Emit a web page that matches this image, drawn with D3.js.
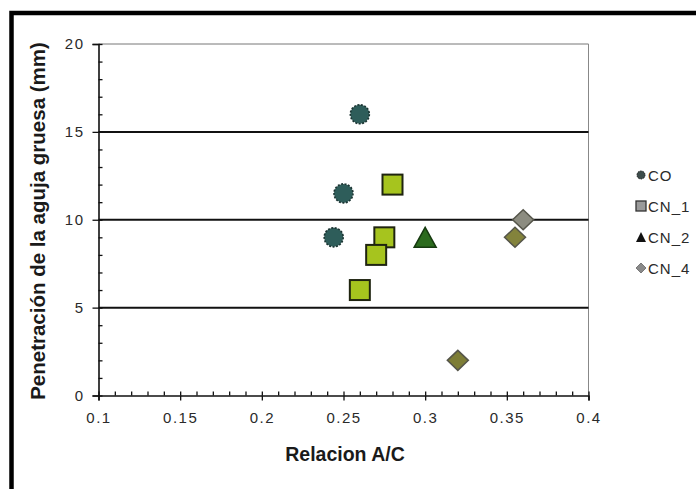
<!DOCTYPE html>
<html><head><meta charset="utf-8">
<script src="https://cdn.jsdelivr.net/npm/d3@7"></script>
<style>body{margin:0;background:#fff}</style>
</head><body><svg id="c" width="696" height="489"></svg>
<script>
// ---- data ----
const seriesNames = ["CO", "CN_1", "CN_2", "CN_4"];
const coX = [0.26, 0.25, 0.244];
const coY = [16, 11.5, 9];
const cn1X = [0.28, 0.275, 0.27, 0.26];
const cn1Y = [12, 9, 8, 6];
const cn2X = [0.30];
const cn2Y = [9];
const cn4X = [0.36, 0.355, 0.32];
const cn4Y = [10, 9, 2];
const xTicks = [0.1, 0.15, 0.2, 0.25, 0.3, 0.35, 0.4];
const yTicks = [0, 5, 10, 15, 20];
const xTitle = "Relacion A/C";
const yTitle = "Penetración de la aguja gruesa (mm)";

// ---- styles ----
const cn4Fill = ["#8c8c80", "#83833c", "#7d7d36"];
const font = "'Liberation Sans', Arial, sans-serif";

const svg = d3.select("#c");
svg.append("rect").attr("width", 696).attr("height", 489).attr("fill", "#fff");
// outer thick frame
svg.append("rect").attr("x", 11.5).attr("y", 13).attr("width", 720).attr("height", 520)
  .attr("fill", "none").attr("stroke", "#000").attr("stroke-width", 4.5);

const L = 98.5, R = 588.5, T = 44, B = 395.5;
const x = d3.scaleLinear().domain([0.1, 0.4]).range([L, R]);
const y = d3.scaleLinear().domain([0, 20]).range([B, T]);

// plot area top/right thin border
svg.append("line").attr("x1", L).attr("x2", R).attr("y1", y(20)).attr("y2", y(20))
  .attr("stroke", "#777").attr("stroke-width", 1);
svg.append("line").attr("x1", R).attr("x2", R).attr("y1", T).attr("y2", B)
  .attr("stroke", "#888").attr("stroke-width", 1);

// gridlines
svg.append("g").selectAll("line").data(yTicks.filter(d => d > 0 && d < 20)).join("line")
  .attr("x1", L).attr("x2", R).attr("y1", d => y(d)).attr("y2", d => y(d))
  .attr("stroke", "#111").attr("stroke-width", 2);

// y axis
const yAx = svg.append("g").attr("transform", `translate(${L},0)`)
  .call(d3.axisLeft(y).tickValues(yTicks).tickSize(6).tickPadding(8).tickFormat(d => String(d)));
const yMin = svg.append("g").attr("transform", `translate(${L},0)`)
  .call(d3.axisRight(y).tickValues(d3.range(0, 21, 1)).tickSize(4).tickFormat(""));
// x axis
const xAx = svg.append("g").attr("transform", `translate(0,${B})`)
  .call(d3.axisBottom(x).tickValues(xTicks).tickSize(5).tickPadding(12).tickFormat(d => String(d)));
const xMin = svg.append("g").attr("transform", `translate(0,${B})`)
  .call(d3.axisTop(x).tickValues(d3.range(10, 41, 1).map(d => d / 100)).tickSize(4).tickFormat(""));

[yAx, yMin, xAx, xMin].forEach(g => {
  g.select(".domain").attr("stroke", "#111").attr("stroke-width", 1.6);
  g.selectAll(".tick line").attr("stroke", "#111").attr("stroke-width", 1.3);
  g.selectAll("text").attr("font-family", font).attr("font-size", 15)
    .attr("letter-spacing", 1.5).attr("fill", "#2a2a2a");
});
yMin.select(".domain").remove();
xMin.select(".domain").remove();

// titles
svg.append("text").attr("x", 345).attr("y", 461).attr("text-anchor", "middle")
  .attr("font-family", font).attr("font-weight", "bold").attr("font-size", 19.5)
  .attr("fill", "#1a1a1a").text(xTitle);
svg.append("text").attr("transform", "translate(45,221) rotate(-90)")
  .attr("text-anchor", "middle").attr("font-family", font).attr("font-weight", "bold")
  .attr("font-size", 20.5).attr("fill", "#1a1a1a").text(yTitle);

// marker shapes
const triPath = (w, h) => `M0,${-h / 2}L${w / 2},${h / 2}L${-w / 2},${h / 2}Z`;
const diaPath = (w, h) => `M0,${-h / 2}L${w / 2},0L0,${h / 2}L${-w / 2},0Z`;

const g = svg.append("g");
// CO
g.selectAll(".co").data(d3.zip(coX, coY)).join("circle")
  .attr("cx", d => x(d[0])).attr("cy", d => y(d[1])).attr("r", 9.5)
  .attr("fill", "#2e5d5a").attr("stroke", "#1b3432").attr("stroke-width", 1.6)
  .attr("stroke-dasharray", "2,1.5");
// CN_1
g.selectAll(".cn1").data(d3.zip(cn1X, cn1Y)).join("rect")
  .attr("x", d => x(d[0]) - 10).attr("y", d => y(d[1]) - 10)
  .attr("width", 20).attr("height", 20)
  .attr("fill", "#a6c41e").attr("stroke", "#1f2410").attr("stroke-width", 2);
// CN_2
g.selectAll(".cn2").data(d3.zip(cn2X, cn2Y)).join("path")
  .attr("transform", d => `translate(${x(d[0])},${y(d[1])})`)
  .attr("d", triPath(22, 20))
  .attr("fill", "#2c6b1e").attr("stroke", "#163a10").attr("stroke-width", 1.5);
// CN_4
g.selectAll(".cn4").data(d3.zip(cn4X, cn4Y)).join("path")
  .attr("transform", d => `translate(${x(d[0])},${y(d[1])})`)
  .attr("d", diaPath(21, 20))
  .attr("fill", (d, i) => cn4Fill[i]).attr("stroke", "#55554a").attr("stroke-width", 1.5);

// legend
const legY = [175, 206, 237, 268];
const lx = 641;
const leg = svg.append("g");
leg.append("circle").attr("cx", lx).attr("cy", legY[0]).attr("r", 4)
  .attr("fill", "#3d4d4b").attr("stroke", "#222").attr("stroke-width", 1)
  .attr("stroke-dasharray", "1.5,1");
leg.append("rect").attr("x", lx - 5).attr("y", legY[1] - 5).attr("width", 10).attr("height", 10)
  .attr("fill", "#9a9a9a").attr("stroke", "#333").attr("stroke-width", 1.3);
leg.append("path").attr("transform", `translate(${lx},${legY[2]})`).attr("d", triPath(10, 10))
  .attr("fill", "#111");
leg.append("path").attr("transform", `translate(${lx},${legY[3]})`).attr("d", diaPath(10, 10))
  .attr("fill", "#8a8a8a").attr("stroke", "#666").attr("stroke-width", 0.8);
leg.selectAll("text").data(seriesNames).join("text")
  .attr("x", lx + 7).attr("y", (d, i) => legY[i] + 5.5)
  .attr("font-family", font).attr("font-size", 15).attr("letter-spacing", 1)
  .attr("fill", "#2a2a2a").text(d => d);
</script></body></html>
